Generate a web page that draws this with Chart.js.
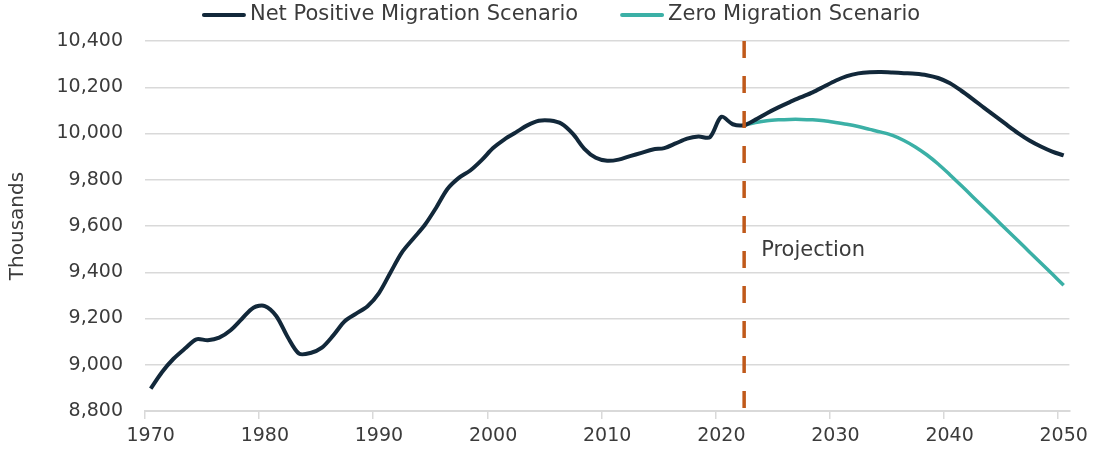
<!DOCTYPE html>
<html>
<head>
<meta charset="utf-8">
<script src="https://cdn.jsdelivr.net/npm/chart.js@4.4.1/dist/chart.umd.min.js"></script>
<style>
  html, body { margin: 0; padding: 0; background: #ffffff; }
  #wrap { width: 1094px; height: 451px; }
</style>
</head>
<body>
<div id="wrap"><canvas id="chart"></canvas></div>
<script>
// Data (thousands of people)
const years = [
  1970, 1971, 1972, 1973, 1974, 1975, 1976, 1977, 1978, 1979,
  1980, 1981, 1982, 1983, 1984, 1985, 1986, 1987, 1988, 1989,
  1990, 1991, 1992, 1993, 1994, 1995, 1996, 1997, 1998, 1999,
  2000, 2001, 2002, 2003, 2004, 2005, 2006, 2007, 2008, 2009,
  2010, 2011, 2012, 2013, 2014, 2015, 2016, 2017, 2018, 2019,
  2020, 2021, 2022, 2023, 2024, 2025, 2026, 2027, 2028, 2029,
  2030, 2031, 2032, 2033, 2034, 2035, 2036, 2037, 2038, 2039,
  2040, 2041, 2042, 2043, 2044, 2045, 2046, 2047, 2048, 2049,
  2050
];

const netPositive = [
  8897, 8969, 9026, 9070, 9110, 9106, 9117, 9149, 9199, 9247,
  9254, 9211, 9120, 9048, 9051, 9074, 9127, 9188, 9221, 9253,
  9310, 9398, 9485, 9545, 9603, 9678, 9760, 9808, 9840, 9885,
  9937, 9975, 10005, 10035, 10055, 10056, 10042, 9998, 9934, 9895,
  9882, 9887, 9902, 9916, 9931, 9937, 9957, 9978, 9987, 9984,
  10072, 10040, 10036, 10060, 10088, 10113, 10136, 10157, 10178, 10203,
  10228, 10248, 10260, 10265, 10266, 10264, 10261, 10258, 10252, 10240,
  10218, 10186, 10150, 10112, 10075, 10038, 10002, 9970, 9944, 9922,
  9905
];

// Zero migration scenario starts at the projection year
const projectionYear = 2022;
const zeroMigration = [
  10036, 10047, 10055, 10059, 10061, 10061, 10059, 10055,
  10048, 10040, 10030, 10018, 10006, 9992, 9970, 9942, 9908, 9868,
  9823, 9776, 9728, 9680, 9632, 9584, 9536, 9488, 9440, 9392,
  9344
];

const xTickLabels = [1970, 1980, 1990, 2000, 2010, 2020, 2030, 2040, 2050];
const yTicks = [8800, 9000, 9200, 9400, 9600, 9800, 10000, 10200, 10400];

const TEXT_COLOR = '#3b3b3b';
const GRID_COLOR = '#d9d9d9';
const FONT = '"DejaVu Sans", sans-serif';

Chart.defaults.font.family = FONT;
Chart.defaults.color = TEXT_COLOR;

// Dashed projection marker with its label
const projectionMarker = {
  id: 'projectionMarker',
  afterDatasetsDraw(chart) {
    const { ctx, chartArea, scales } = chart;
    const x = scales.x.getPixelForValue(years.indexOf(projectionYear));
    ctx.save();
    ctx.strokeStyle = '#c0591a';
    ctx.lineWidth = 3.5;
    ctx.setLineDash([17, 18]);
    ctx.beginPath();
    ctx.moveTo(x, chartArea.top);
    ctx.lineTo(x, chartArea.bottom + 1);
    ctx.stroke();
    ctx.setLineDash([]);
    ctx.fillStyle = TEXT_COLOR;
    ctx.font = '21px ' + FONT;
    ctx.textBaseline = 'middle';
    ctx.textAlign = 'left';
    ctx.fillText('Projection', x + 17, scales.y.getPixelForValue(9495));
    ctx.restore();
  }
};

// Legend drawn as line samples, laid out like the original
const lineLegend = {
  id: 'lineLegend',
  afterDraw(chart) {
    const { ctx } = chart;
    const sample = 44, textGap = 4, itemGap = 42, y = 15;
    ctx.save();
    ctx.font = '21px ' + FONT;
    ctx.textBaseline = 'middle';
    const items = chart.data.datasets.map(ds => ({
      text: ds.label,
      color: ds.borderColor,
      width: sample + textGap + ctx.measureText(ds.label).width
    }));
    const total = items.reduce((s, it) => s + it.width, 0) + itemGap * (items.length - 1);
    let x = chart.width / 2 + 14 - total / 2;
    items.forEach(it => {
      ctx.strokeStyle = it.color;
      ctx.lineWidth = 4;
      ctx.lineCap = 'round';
      ctx.beginPath();
      ctx.moveTo(x + 2, y);
      ctx.lineTo(x + sample - 2, y);
      ctx.stroke();
      ctx.fillStyle = TEXT_COLOR;
      ctx.fillText(it.text, x + sample + textGap, y);
      x += it.width + itemGap;
    });
    ctx.restore();
  }
};

new Chart(document.getElementById('chart'), {
  type: 'line',
  data: {
    labels: years,
    datasets: [
      {
        label: 'Net Positive Migration Scenario',
        data: netPositive,
        borderColor: '#12283a',
        backgroundColor: '#12283a',
        borderWidth: 4,
        pointRadius: 0,
        tension: 0.3,
        fill: false
      },
      {
        label: 'Zero Migration Scenario',
        data: years.map(y => (y < projectionYear ? null : zeroMigration[y - projectionYear])),
        borderColor: '#3bb0a6',
        backgroundColor: '#3bb0a6',
        borderWidth: 3.5,
        pointRadius: 0,
        tension: 0.3,
        fill: false
      }
    ]
  },
  options: {
    responsive: true,
    maintainAspectRatio: false,
    animation: false,
    layout: { padding: { left: 0, right: 22, top: 41, bottom: 0 } },
    plugins: {
      tooltip: { enabled: false },
      legend: { display: false }
    },
    scales: {
      x: {
        type: 'category',
        offset: true,
        grid: {
          offset: true,
          drawOnChartArea: false,
          drawTicks: true,
          tickLength: 8,
          lineWidth: 1.5,
          color: (ctx) => (xTickLabels.includes(years[ctx.index]) ? GRID_COLOR : 'rgba(0,0,0,0)')
        },
        border: { display: true, color: GRID_COLOR, width: 2 },
        ticks: {
          autoSkip: false,
          maxRotation: 0,
          padding: 6,
          color: TEXT_COLOR,
          font: { size: 19 },
          callback: (value, index) => (xTickLabels.includes(years[index]) ? years[index] : '')
        },
        afterFit: (scale) => { scale.height = 40; }
      },
      y: {
        min: 8800,
        max: 10400,
        afterBuildTicks: (scale) => { scale.ticks = yTicks.map(v => ({ value: v })); },
        grid: { color: GRID_COLOR, lineWidth: 1.5, drawTicks: false },
        border: { display: false },
        ticks: {
          padding: 22,
          color: TEXT_COLOR,
          font: { size: 19 },
          callback: (value) => value.toLocaleString('en-US')
        },
        title: {
          display: true,
          text: 'Thousands',
          color: TEXT_COLOR,
          font: { size: 20 },
          padding: { top: 6, bottom: 0 }
        },
        afterFit: (scale) => { scale.width = 145; }
      }
    }
  },
  plugins: [projectionMarker, lineLegend]
});
</script>
</body>
</html>
